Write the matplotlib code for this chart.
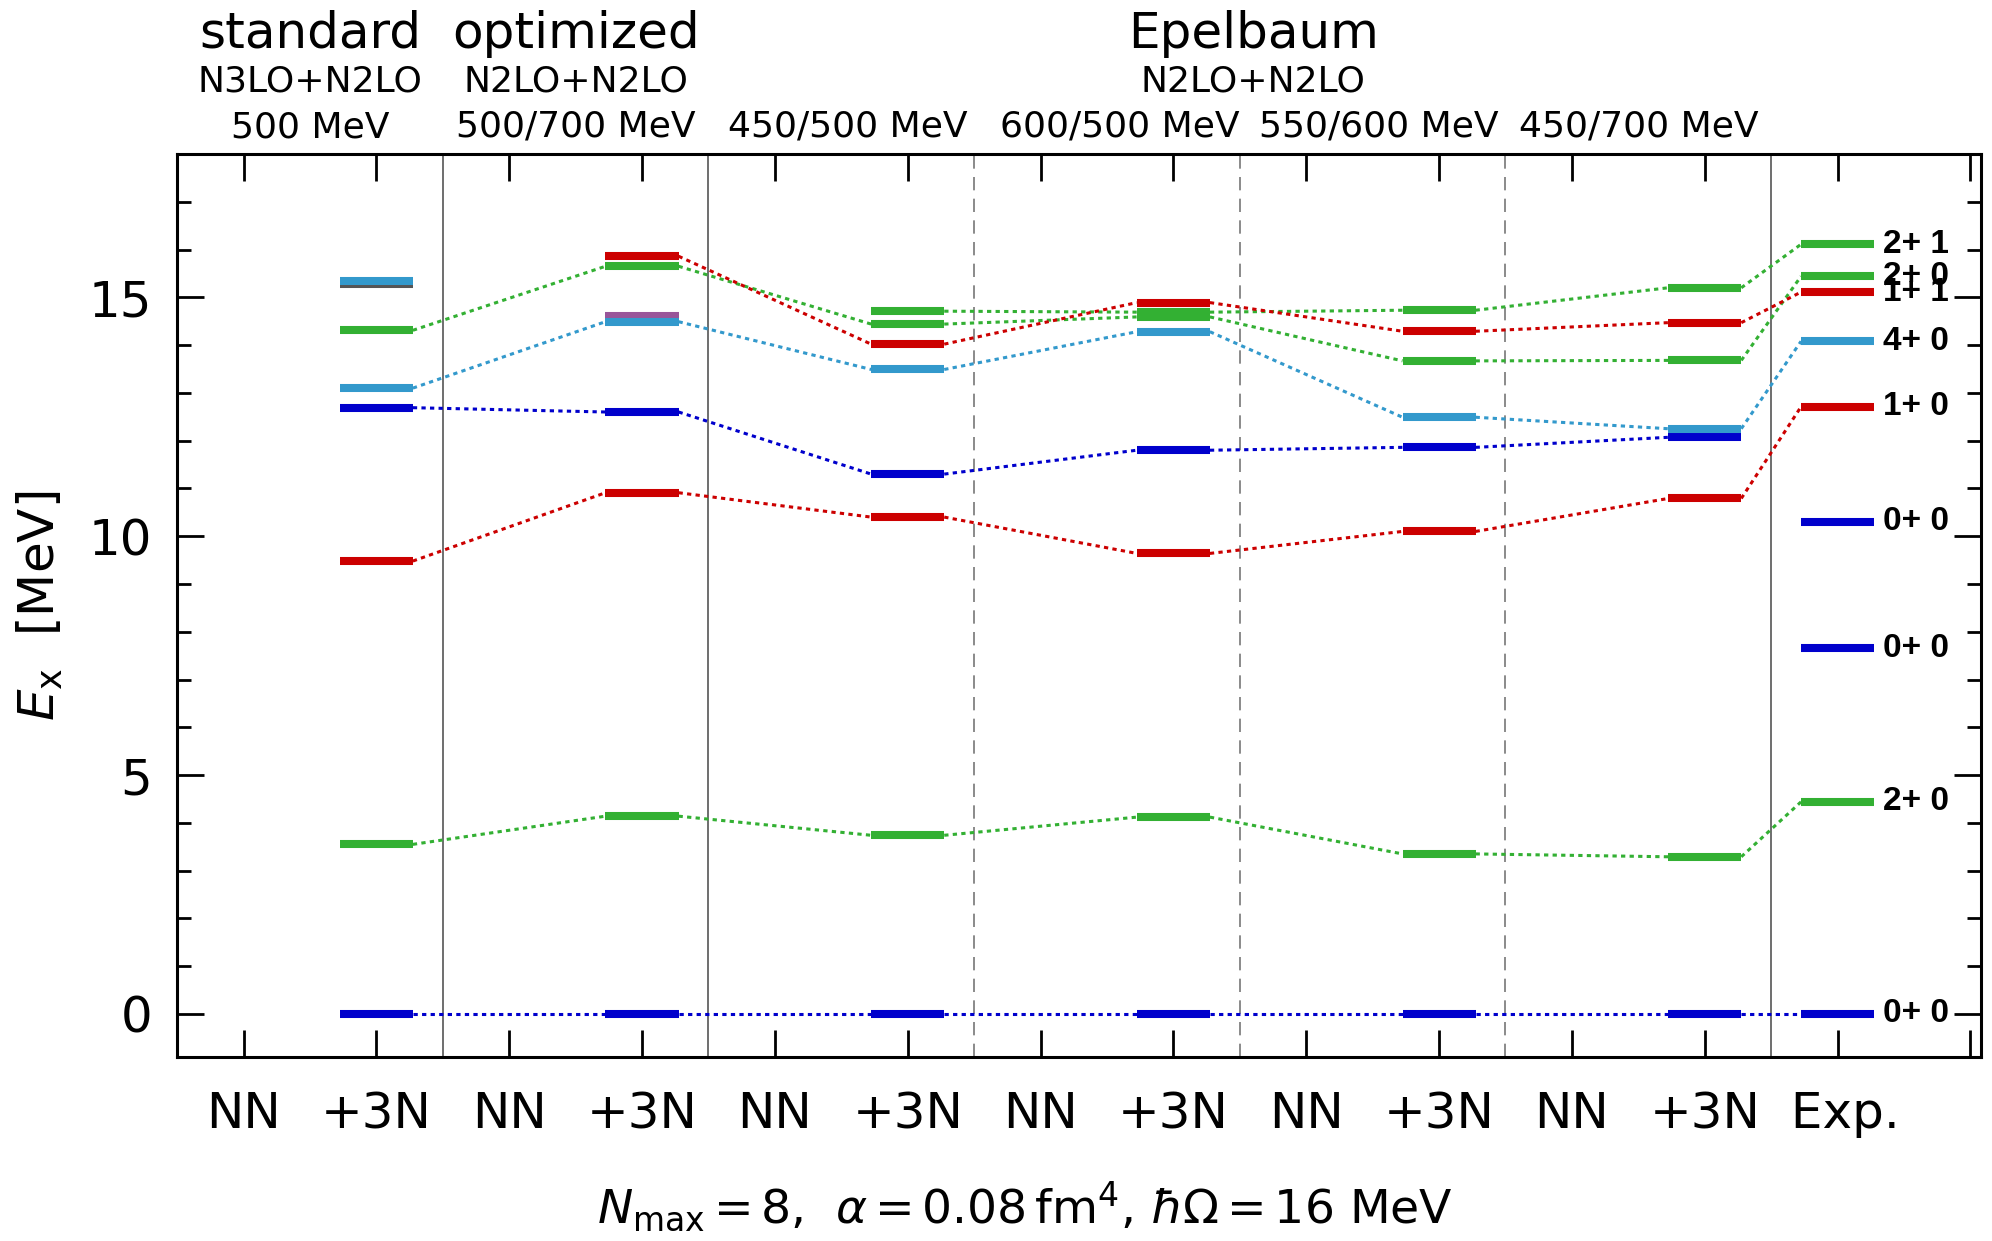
import numpy as np
import matplotlib
matplotlib.use("Agg")
import matplotlib.pyplot as plt
from matplotlib import transforms
from matplotlib.ticker import MultipleLocator

# columns of the +3N calculations (NN columns are empty)
cols_3n = [1, 3, 5, 7, 9, 11]
col_exp = 12

# excitation energies [MeV] per +3N column
e_gs = [0.0, 0.0, 0.0, 0.0, 0.0, 0.0]
e_2p_1 = [3.55, 4.14, 3.74, 4.12, 3.35, 3.29]
e_1p_1 = [9.48, 10.91, 10.40, 9.64, 10.10, 10.79]
e_0p_2 = [12.69, 12.60, 11.30, 11.80, 11.86, 12.07]
e_4p_1 = [13.10, 14.49, 13.49, 14.28, 12.49, 12.25]
e_2p_2 = [14.31, 15.65, 14.44, 14.59, 13.67, 13.68]
e_2p_3 = [np.nan, np.nan, 14.71, 14.69, 14.73, 15.20]
e_1p_2 = [np.nan, 15.86, 14.02, 14.89, 14.29, 14.47]

# unconnected extra levels
extra_col = [1, 1, 3]
extra_e = [15.28, 15.34, 14.60]
extra_kind = ["gray", "lblue", "purple"]

# experiment
exp_e = [0.0, 4.44, 7.65, 10.3, 12.71, 14.08, 15.11, 15.44, 16.11]
exp_kind = ["blue", "green", "blue", "blue", "red", "lblue", "red", "green", "green"]
exp_lab = ["0+ 0", "2+ 0", "0+ 0", "0+ 0", "1+ 0", "4+ 0", "1+ 1", "2+ 0", "2+ 1"]

xtick_labels = ["NN", "+3N"] * 6 + [" Exp.", ""]
group_names = ["standard", "optimized", "Epelbaum"]
group_x = [0.5, 2.5, 7.6]
group_int = ["N3LO+N2LO", "N2LO+N2LO", "N2LO+N2LO"]
cutoffs = ["500 MeV", "500/700 MeV", "450/500 MeV", "600/500 MeV", "550/600 MeV", "450/700 MeV"]
cutoff_x = [0.5, 2.5, 4.55, 6.6, 8.55, 10.5]

colors = {"blue": "#0000cc", "green": "#33b033", "red": "#cc0000",
          "lblue": "#3399cc", "purple": "#995599", "gray": "#555555"}

hw = 0.275  # half width of a level bar

fig = plt.figure(figsize=(9.96, 6.205), dpi=200)
ax = fig.add_axes([0.0889, 0.1483, 0.9056, 0.7276])


def bars(xs, es, kind):
    for x, e in zip(xs, es):
        if np.isnan(e):
            continue
        ax.plot([x - hw, x + hw], [e, e], color=colors[kind], lw=2.9,
                solid_capstyle="butt", zorder=3)


def chain(es, kind, exp=None):
    pts = [(x, e) for x, e in zip(cols_3n, es) if not np.isnan(e)]
    if exp is not None:
        pts.append((col_exp, exp))
    for (x1, e1), (x2, e2) in zip(pts[:-1], pts[1:]):
        ax.plot([x1 + hw, x2 - hw], [e1, e2], color=colors[kind], lw=1.1,
                linestyle=(0, (1.4, 1.4)), zorder=2)


# extra levels first (partly hidden)
for x, e, k in zip(extra_col, extra_e, extra_kind):
    bars([x], [e], k)

series = [(e_gs, "blue", 0.0), (e_2p_1, "green", 4.44), (e_1p_1, "red", 12.71),
          (e_0p_2, "blue", None), (e_4p_1, "lblue", 14.08), (e_2p_2, "green", 15.44),
          (e_2p_3, "green", 16.11), (e_1p_2, "red", 15.11)]
for es, k, ex in series:
    bars(cols_3n, es, k)
    chain(es, k, ex)

for e, k, lab in zip(exp_e, exp_kind, exp_lab):
    bars([col_exp], [e], k)
    ax.text(col_exp + 0.34, e, lab, fontsize=12, fontweight="bold",
            family="Liberation Sans", va="center", ha="left", zorder=4)

# separators
for x in [1.5, 3.5, 11.5]:
    ax.axvline(x, color="#555555", lw=0.6, zorder=1)
for x in [5.5, 7.5, 9.5]:
    ax.axvline(x, color="#777777", lw=0.6, linestyle=(0, (8, 5)), zorder=1)

ax.set_xlim(-0.5, 13.08)
ax.set_ylim(-0.9, 18)
ax.set_xticks(range(14))
ax.set_xticklabels(xtick_labels, fontsize=18)
ax.yaxis.set_major_locator(MultipleLocator(5))
ax.yaxis.set_minor_locator(MultipleLocator(1))
ax.tick_params(axis="both", which="both", direction="in", top=True, right=True)
ax.tick_params(axis="both", which="major", length=9.8, width=1.0)
ax.tick_params(axis="y", which="minor", length=5, width=1.0)
ax.tick_params(axis="y", which="major", labelsize=18, pad=9)
ax.tick_params(axis="x", which="major", pad=12)
for s in ax.spines.values():
    s.set_linewidth(1.1)

ax.set_ylabel(r"$E_\mathrm{x}$  [MeV]", fontsize=18)
ax.yaxis.set_label_coords(-0.062, 0.5)

# header texts
tr = transforms.blended_transform_factory(ax.transData, fig.transFigure)
for x, name, inter in zip(group_x, group_names, group_int):
    ax.text(x, 1 - 48 / 1241, name, transform=tr, ha="center", va="baseline", fontsize=18)
    ax.text(x, 1 - 92 / 1241, inter, transform=tr, ha="center", va="baseline", fontsize=13)
for x, c in zip(cutoff_x, cutoffs):
    ax.text(x, 1 - 137 / 1241, c, transform=tr, ha="center", va="baseline", fontsize=13)

fig.text(0.5146, 1 - 1223 / 1241,
         r"$N_{\rm max}$$\,$=$\,$8,  $\alpha$$\,$=$\,$0.08$\,$fm$^4$, $\hbar\Omega$$\,$=$\,$16 MeV",
         ha="center", va="baseline", fontsize=17)

fig.savefig("out.png", dpi=200)
